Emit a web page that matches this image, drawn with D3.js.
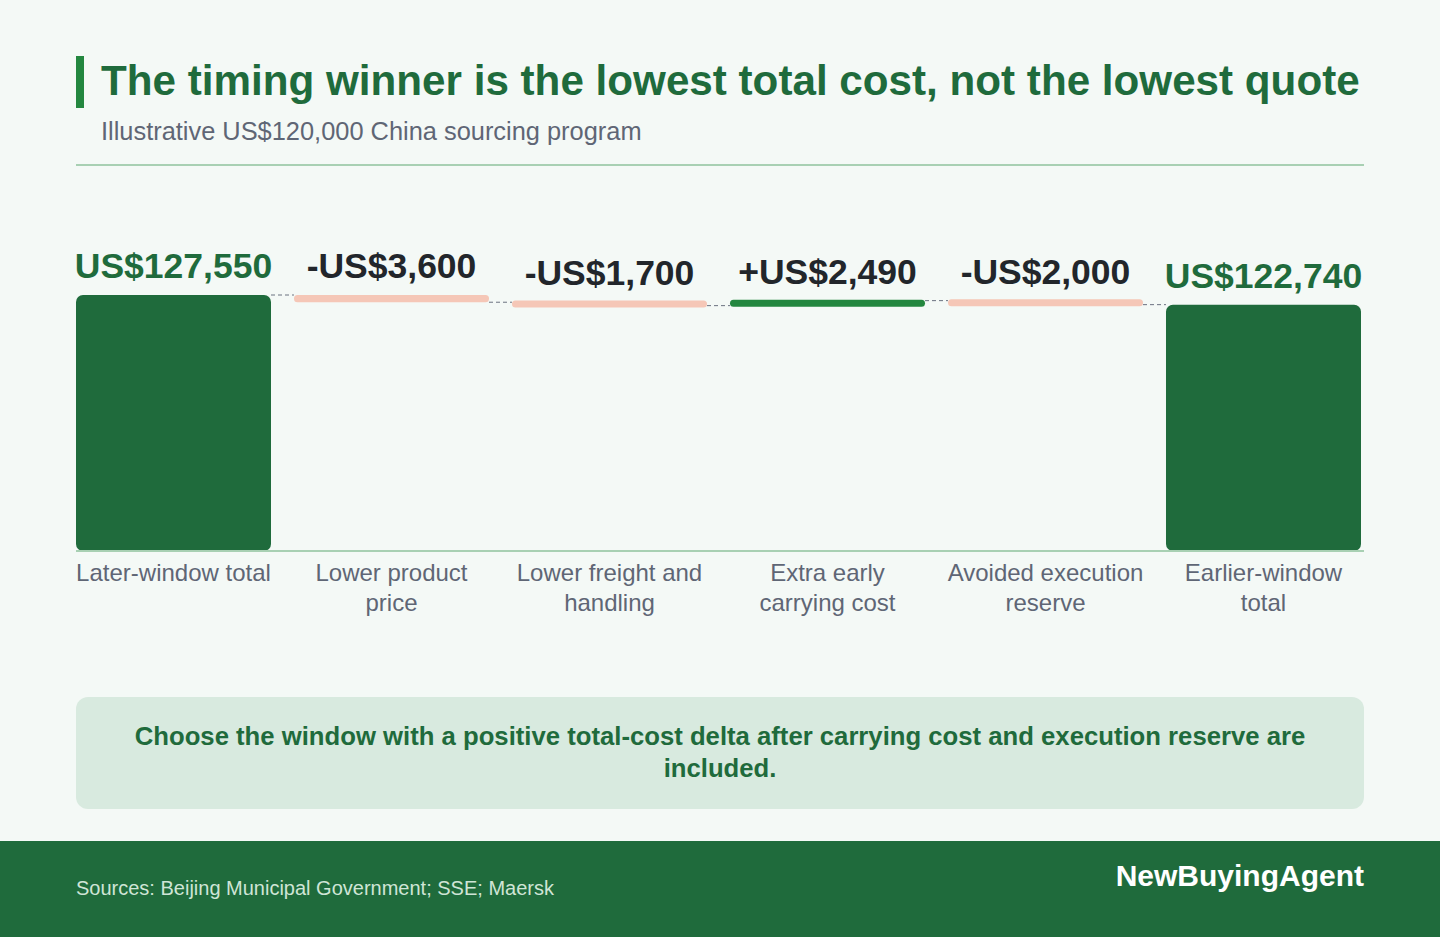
<!DOCTYPE html>
<html>
<head>
<meta charset="utf-8">
<script src="https://cdn.jsdelivr.net/npm/d3@7"></script>
<style>
  body { margin: 0; background: #f4f9f6; }
  svg { display: block; font-family: "Liberation Sans", Arial, sans-serif; }
</style>
</head>
<body>
<div id="chart"></div>
<script>
'use strict';

// data
var categories = ['Later-window total', 'Lower product price', 'Lower freight and handling',
                  'Extra early carrying cost', 'Avoided execution reserve', 'Earlier-window total'];
var values = [127550, -3600, -1700, 2490, -2000, 122740];
var kinds = ['total', 'delta', 'delta', 'delta', 'delta', 'total'];

var title = 'The timing winner is the lowest total cost, not the lowest quote';
var subtitle = 'Illustrative US$120,000 China sourcing program';
var note = 'Choose the window with a positive total-cost delta after carrying cost and execution reserve are included.';
var source = 'Sources: Beijing Municipal Government; SSE; Maersk';
var brand = 'NewBuyingAgent';

var W = 1440, H = 937;
var left = 76, right = 1364;
var baseY = 551;
var green = '#1f6b3c';

var svg = d3.select('#chart').append('svg')
    .attr('width', W)
    .attr('height', H);

svg.append('rect').attr('width', W).attr('height', H).attr('fill', '#f4f9f6');

// header
svg.append('rect').attr('x', 76).attr('y', 56).attr('width', 8).attr('height', 52).attr('fill', '#23873f');
svg.append('text').attr('x', 101).attr('y', 95)
    .attr('fill', green).style('font-size', '42.2px').style('font-weight', 'bold')
    .text(title);
svg.append('text').attr('x', 101).attr('y', 139.5)
    .attr('fill', '#5f6675').style('font-size', '25.4px')
    .text(subtitle);
svg.append('line').attr('x1', left).attr('x2', right).attr('y1', 165).attr('y2', 165)
    .attr('stroke', '#a8d0b3').attr('stroke-width', 2);

// running totals for the waterfall
var steps = [];
var running = 0;
values.forEach(function (v, i) {
    var s = {name: categories[i], value: v, kind: kinds[i]};
    if (kinds[i] === 'total') {
        s.start = 0; s.end = v; running = v;
    } else {
        s.start = running; s.end = running + v; running = s.end;
    }
    steps.push(s);
});

var x = d3.scaleBand()
    .domain(categories)
    .range([left, 1361])
    .paddingInner(0.1055)
    .paddingOuter(0);

var y = d3.scaleLinear()
    .domain([0, 127550])
    .range([baseY, 295]);

var fmt = d3.format(',');
function label(s) {
    if (s.kind === 'total') return 'US$' + fmt(s.value);
    return (s.value < 0 ? '-' : '+') + 'US$' + fmt(Math.abs(s.value));
}
function barColor(s) {
    if (s.kind === 'total') return green;
    return s.value < 0 ? '#f5c7b7' : '#23873f';
}

// connectors
for (var i = 0; i < steps.length - 1; i++) {
    svg.append('line')
        .attr('x1', x(steps[i].name) + x.bandwidth())
        .attr('x2', x(steps[i + 1].name))
        .attr('y1', y(steps[i].end)).attr('y2', y(steps[i].end))
        .attr('stroke', '#6b7280').attr('stroke-width', 1)
        .attr('stroke-dasharray', '4,3');
}

var minH = 7;
svg.selectAll('.bar')
    .data(steps)
    .enter().append('rect')
    .attr('class', 'bar')
    .attr('x', function (d) { return x(d.name); })
    .attr('width', x.bandwidth())
    .attr('y', function (d) {
        var a = y(d.start), b = y(d.end);
        var h = Math.abs(a - b);
        if (h < minH) return (a + b) / 2 - minH / 2;
        return Math.min(a, b);
    })
    .attr('height', function (d) {
        return Math.max(minH, Math.abs(y(d.start) - y(d.end)));
    })
    .attr('rx', function (d) { return d.kind === 'total' ? 7 : 3.5; })
    .attr('fill', barColor);

svg.selectAll('.val')
    .data(steps)
    .enter().append('text')
    .attr('class', 'val')
    .attr('x', function (d) { return x(d.name) + x.bandwidth() / 2; })
    .attr('y', function (d) { return Math.min(y(d.start), y(d.end)) - 17; })
    .attr('text-anchor', 'middle')
    .style('font-size', '35.5px').style('font-weight', 'bold')
    .attr('fill', function (d) { return d.kind === 'total' ? green : '#22262b'; })
    .text(label);

// baseline
svg.append('line').attr('x1', left).attr('x2', right).attr('y1', baseY).attr('y2', baseY)
    .attr('stroke', '#a8d0b3').attr('stroke-width', 2);

function wrap(textSel, width, lineH) {
    textSel.each(function () {
        var t = d3.select(this);
        var words = t.text().split(/\s+/);
        var xx = t.attr('x');
        t.text(null);
        var line = [];
        var ts = t.append('tspan').attr('x', xx).attr('dy', 0);
        words.forEach(function (w) {
            line.push(w);
            ts.text(line.join(' '));
            if (ts.node().getComputedTextLength() > width && line.length > 1) {
                line.pop();
                ts.text(line.join(' '));
                line = [w];
                ts = t.append('tspan').attr('x', xx).attr('dy', lineH).text(w);
            }
        });
    });
}

svg.selectAll('.cat')
    .data(steps)
    .enter().append('text')
    .attr('class', 'cat')
    .attr('x', function (d) { return x(d.name) + x.bandwidth() / 2; })
    .attr('y', 581)
    .attr('text-anchor', 'middle')
    .attr('fill', '#5f6675')
    .style('font-size', '24px')
    .text(function (d) { return d.name; })
    .call(wrap, 200, 30);

// takeaway box
svg.append('rect').attr('x', left).attr('y', 697).attr('width', right - left).attr('height', 112)
    .attr('rx', 12).attr('fill', '#d8eadf');
svg.append('text').attr('x', 720).attr('y', 745)
    .attr('text-anchor', 'middle').attr('fill', green)
    .style('font-size', '25.7px').style('font-weight', 'bold')
    .text(note)
    .call(wrap, 1200, 32);

// footer
svg.append('rect').attr('x', 0).attr('y', 841).attr('width', W).attr('height', H - 841).attr('fill', green);
svg.append('text').attr('x', left).attr('y', 895)
    .attr('fill', '#cfe5d6').style('font-size', '20px')
    .text(source);
svg.append('text').attr('x', right).attr('y', 886)
    .attr('text-anchor', 'end').attr('fill', '#ffffff')
    .style('font-size', '30px').style('font-weight', 'bold')
    .text(brand);
</script>
</body>
</html>
